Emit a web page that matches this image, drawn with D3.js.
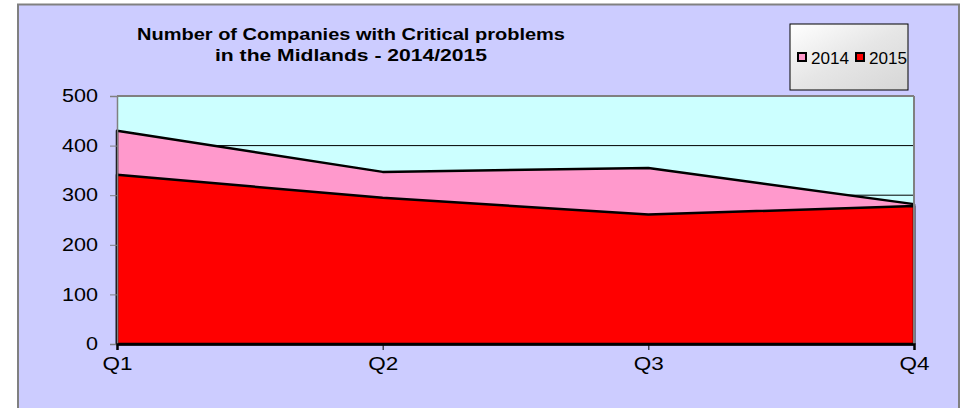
<!DOCTYPE html>
<html><head><meta charset="utf-8">
<script src="https://cdn.jsdelivr.net/npm/d3@7"></script>
<style>body{margin:0;background:#fff;}svg{display:block;font-family:Arial,"Liberation Sans",sans-serif;}</style>
</head><body>
<svg id="c" width="964" height="408"></svg>
<script>
const categories = ["Q1","Q2","Q3","Q4"];
const values2014 = [430, 347, 355, 282];
const values2015 = [341, 295, 261, 278];
const yTicks = [0,100,200,300,400,500];
const seriesNames = ["2014","2015"];
const seriesColors = ["#FF99CC","#FF0000"];
const titleLines = ["Number of Companies with Critical problems","in the Midlands - 2014/2015"];

const FONT = "Arial, 'Liberation Sans', sans-serif";
const svg = d3.select("#c");
svg.append("rect").attr("x",0).attr("y",0).attr("width",964).attr("height",408).attr("fill","#fff");
svg.append("rect").attr("x",18).attr("y",4.5).attr("width",941).attr("height",410)
  .attr("fill","#CCCCFF").attr("stroke","#808080").attr("stroke-width",2);

const L=117, R=914, T=96, B=344;
const x = d3.scalePoint().domain(categories).range([L,R]);
const y = d3.scaleLinear().domain([0,500]).range([B,T]);

svg.append("rect").attr("x",L).attr("y",T).attr("width",R-L).attr("height",B-T).attr("fill","#CCFFFF");

svg.append("g").selectAll("line").data(yTicks.filter(d=>d>0 && d<500)).join("line")
  .attr("x1",L).attr("x2",R).attr("y1",d=>y(d)).attr("y2",d=>y(d)).attr("stroke","#000").attr("stroke-width",1);

const area = d3.area().x((d,i)=>x(categories[i])).y0(y(0)).y1(d=>y(d));
[values2014, values2015].forEach((vals,k)=>{
  svg.append("path").datum(vals).attr("d",area).attr("fill",seriesColors[k])
    .attr("stroke","#000").attr("stroke-width",2.5).attr("stroke-linejoin","round");
});

svg.append("line").attr("x1",L).attr("x2",R).attr("y1",T).attr("y2",T).attr("stroke","#808080").attr("stroke-width",2);
svg.append("line").attr("x1",R).attr("x2",R).attr("y1",T).attr("y2",B).attr("stroke","#808080").attr("stroke-width",2);

const yAxis = svg.append("g").attr("transform",`translate(${L},0)`)
  .call(d3.axisLeft(y).tickValues(yTicks).tickSize(7).tickPadding(12));
yAxis.select(".domain").attr("stroke","#808080").attr("stroke-width",1.5);
yAxis.selectAll(".tick line").attr("stroke","#808080");
yAxis.selectAll("text").attr("font-size",18).attr("fill","#000").attr("font-family",FONT)
  .attr("textLength",d=>String(d).length*12).attr("lengthAdjust","spacingAndGlyphs");

const xAxis = svg.append("g").attr("transform",`translate(0,${B})`)
  .call(d3.axisBottom(x).tickSize(6).tickPadding(7));
xAxis.select(".domain").attr("stroke","#000").attr("stroke-width",2.5);
xAxis.selectAll(".tick line").attr("stroke","#000");
xAxis.selectAll("text").attr("font-size",19).attr("fill","#000").attr("font-family",FONT)
  .attr("textLength",30).attr("lengthAdjust","spacingAndGlyphs");

const tw = [428, 272], ty = [40, 61];
titleLines.forEach((t,i)=>{
  svg.append("text").attr("x",351).attr("y",ty[i]).attr("text-anchor","middle")
    .attr("font-weight","bold").attr("font-size",17).attr("fill","#000").attr("font-family",FONT)
    .attr("textLength",tw[i]).attr("lengthAdjust","spacingAndGlyphs").text(t);
});

const defs = svg.append("defs");
const g = defs.append("linearGradient").attr("id","lg").attr("x1","0").attr("y1","0").attr("x2","1").attr("y2","1");
g.append("stop").attr("offset","0").attr("stop-color","#FFFFFF");
g.append("stop").attr("offset","0.5").attr("stop-color","#E6E6E6");
g.append("stop").attr("offset","1").attr("stop-color","#D6D6D6");
svg.append("rect").attr("x",790).attr("y",24).attr("width",118).attr("height",66)
  .attr("fill","url(#lg)").attr("stroke","#000").attr("stroke-width",1);
const lx = [797, 855];
seriesNames.forEach((n,k)=>{
  svg.append("rect").attr("x",lx[k]+1).attr("y",53).attr("width",8).attr("height",8)
    .attr("fill",seriesColors[k]).attr("stroke","#000").attr("stroke-width",2);
  svg.append("text").attr("x",lx[k]+14).attr("y",64).attr("font-size",16).attr("fill","#000")
    .attr("font-family",FONT).attr("textLength",38).attr("lengthAdjust","spacingAndGlyphs").text(n);
});
</script>
</body></html>
